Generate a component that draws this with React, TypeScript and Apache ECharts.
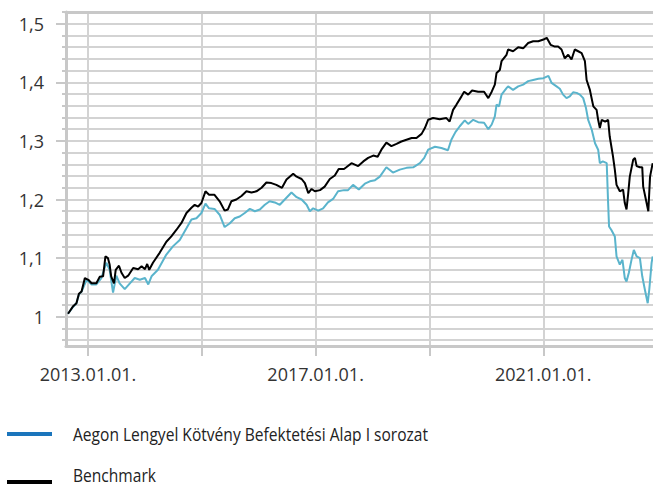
import React, { useEffect, useRef } from "react";
import * as echarts from "echarts";

const fundName = "Aegon Lengyel Kötvény Befektetési Alap I sorozat";
const benchName = "Benchmark";

const fundDates = [
  "2012-08-26", "2012-09-28", "2012-10-19", "2012-11-04", "2012-11-21", "2012-12-23",
  "2013-01-24", "2013-02-24", "2013-03-28", "2013-04-29", "2013-05-20", "2013-06-11",
  "2013-07-02", "2013-07-23", "2013-08-25", "2013-09-27", "2013-10-28", "2013-11-30",
  "2014-01-02", "2014-01-23", "2014-02-13", "2014-03-26", "2014-05-19", "2014-06-30",
  "2014-08-13", "2014-09-25", "2014-10-27", "2014-11-28", "2014-12-30", "2015-01-25",
  "2015-02-17", "2015-03-24", "2015-04-26", "2015-05-28", "2015-06-29", "2015-08-01",
  "2015-09-02", "2015-10-04", "2015-11-06", "2015-12-08", "2016-01-09", "2016-02-10",
  "2016-03-12", "2016-04-14", "2016-05-16", "2016-06-17", "2016-07-30", "2016-09-01",
  "2016-10-03", "2016-11-04", "2016-11-25", "2016-12-16", "2017-01-18", "2017-02-18",
  "2017-03-21", "2017-04-23", "2017-05-25", "2017-07-02", "2017-07-28", "2017-08-29",
  "2017-10-05", "2017-11-13", "2017-12-15", "2018-01-17", "2018-02-17", "2018-03-31",
  "2018-05-12", "2018-06-25", "2018-08-07", "2018-09-19", "2018-11-01", "2018-11-29",
  "2018-12-24", "2019-02-06", "2019-03-19", "2019-04-30", "2019-05-22", "2019-06-17",
  "2019-07-15", "2019-08-16", "2019-09-07", "2019-10-09", "2019-11-10", "2019-12-18",
  "2020-01-14", "2020-02-05", "2020-02-25", "2020-03-07", "2020-03-23", "2020-04-08",
  "2020-05-10", "2020-05-20", "2020-06-21", "2020-07-24", "2020-08-25", "2020-09-26",
  "2020-10-28", "2020-11-30", "2021-01-02", "2021-02-03", "2021-02-23", "2021-03-27",
  "2021-04-17", "2021-05-08", "2021-05-30", "2021-06-20", "2021-07-11", "2021-08-03",
  "2021-08-24", "2021-09-14", "2021-10-02", "2021-10-16", "2021-11-08", "2021-11-29",
  "2021-12-19", "2021-12-30", "2022-01-18", "2022-02-12", "2022-02-21", "2022-02-27",
  "2022-03-14", "2022-04-05", "2022-04-16", "2022-05-07", "2022-05-24", "2022-06-08",
  "2022-06-19", "2022-07-04", "2022-07-21", "2022-08-05", "2022-08-23", "2022-09-13",
  "2022-09-28", "2022-10-15", "2022-11-02", "2022-11-12", "2022-11-27", "2022-12-04",
];
const fundValues = [
  1.005, 1.017, 1.023, 1.038, 1.043, 1.063,
  1.055, 1.055, 1.066, 1.092, 1.080, 1.041,
  1.070, 1.057, 1.047, 1.057, 1.066, 1.063,
  1.066, 1.055, 1.069, 1.080, 1.106, 1.120,
  1.131, 1.151, 1.166, 1.168, 1.177, 1.193,
  1.185, 1.184, 1.174, 1.153, 1.159, 1.168,
  1.171, 1.177, 1.184, 1.180, 1.183, 1.191,
  1.197, 1.195, 1.191, 1.200, 1.212, 1.204,
  1.200, 1.191, 1.180, 1.185, 1.181, 1.185,
  1.195, 1.201, 1.214, 1.216, 1.216, 1.225,
  1.217, 1.227, 1.231, 1.233, 1.239, 1.255,
  1.246, 1.251, 1.254, 1.255, 1.262, 1.271,
  1.285, 1.290, 1.288, 1.284, 1.302, 1.315,
  1.325, 1.335, 1.329, 1.336, 1.332, 1.331,
  1.320, 1.328, 1.342, 1.362, 1.359, 1.379,
  1.390, 1.393, 1.387, 1.393, 1.396, 1.402,
  1.404, 1.406, 1.407, 1.411, 1.399, 1.393,
  1.389, 1.379, 1.373, 1.376, 1.383, 1.382,
  1.379, 1.373, 1.356, 1.336, 1.319, 1.296,
  1.285, 1.262, 1.265, 1.262, 1.194, 1.154,
  1.148, 1.137, 1.103, 1.089, 1.097, 1.066,
  1.060, 1.075, 1.097, 1.114, 1.103, 1.100,
  1.069, 1.046, 1.023, 1.046, 1.092, 1.103,
];

const benchDates = [
  "2012-08-26", "2012-09-28", "2012-10-19", "2012-11-04", "2012-11-21", "2012-12-12",
  "2013-01-03", "2013-01-24", "2013-02-24", "2013-03-17", "2013-04-08", "2013-04-23",
  "2013-05-09", "2013-05-20", "2013-05-30", "2013-06-17", "2013-06-28", "2013-07-19",
  "2013-08-04", "2013-08-25", "2013-09-16", "2013-10-18", "2013-11-19", "2013-12-11",
  "2014-01-02", "2014-01-16", "2014-01-29", "2014-02-22", "2014-04-06", "2014-05-19",
  "2014-06-20", "2014-07-22", "2014-08-24", "2014-09-25", "2014-10-27", "2014-11-17",
  "2014-12-09", "2014-12-30", "2015-01-25", "2015-02-17", "2015-03-24", "2015-04-26",
  "2015-05-28", "2015-06-18", "2015-07-10", "2015-08-11", "2015-09-13", "2015-10-15",
  "2015-11-16", "2015-12-18", "2016-01-20", "2016-02-20", "2016-03-23", "2016-04-24",
  "2016-05-30", "2016-06-28", "2016-08-10", "2016-09-01", "2016-10-03", "2016-10-24",
  "2016-11-15", "2016-12-06", "2016-12-27", "2017-01-29", "2017-02-28", "2017-04-02",
  "2017-05-04", "2017-05-29", "2017-07-02", "2017-07-17", "2017-08-19", "2017-10-01",
  "2017-11-03", "2017-12-04", "2018-01-06", "2018-02-03", "2018-02-27", "2018-03-31",
  "2018-05-02", "2018-06-04", "2018-07-05", "2018-08-07", "2018-09-09", "2018-10-10",
  "2018-11-12", "2018-12-03", "2018-12-24", "2019-01-25", "2019-03-08", "2019-04-20",
  "2019-05-11", "2019-06-02", "2019-06-24", "2019-07-26", "2019-08-12", "2019-09-07",
  "2019-10-02", "2019-11-10", "2019-12-18", "2020-01-14", "2020-02-05", "2020-02-25",
  "2020-03-07", "2020-03-28", "2020-04-08", "2020-05-10", "2020-05-20", "2020-06-21",
  "2020-07-24", "2020-08-25", "2020-09-26", "2020-10-28", "2020-11-30", "2021-01-02",
  "2021-01-23", "2021-02-17", "2021-03-16", "2021-04-06", "2021-04-28", "2021-05-19",
  "2021-06-10", "2021-07-01", "2021-07-22", "2021-08-13", "2021-09-04", "2021-09-25",
  "2021-10-06", "2021-10-27", "2021-11-18", "2021-12-09", "2021-12-19", "2021-12-30",
  "2022-01-11", "2022-02-02", "2022-02-21", "2022-03-03", "2022-03-24", "2022-04-05",
  "2022-04-16", "2022-05-07", "2022-05-28", "2022-06-08", "2022-06-19", "2022-06-29",
  "2022-07-10", "2022-08-01", "2022-08-12", "2022-08-23", "2022-09-13", "2022-09-28",
  "2022-10-04", "2022-10-26", "2022-11-06", "2022-11-17", "2022-12-04",
];
const benchValues = [
  1.005, 1.018, 1.023, 1.039, 1.043, 1.066,
  1.063, 1.057, 1.057, 1.068, 1.069, 1.103,
  1.100, 1.089, 1.069, 1.057, 1.080, 1.087,
  1.075, 1.066, 1.070, 1.083, 1.081, 1.086,
  1.081, 1.090, 1.080, 1.092, 1.109, 1.128,
  1.137, 1.148, 1.160, 1.177, 1.186, 1.191,
  1.188, 1.194, 1.214, 1.208, 1.208, 1.197,
  1.181, 1.183, 1.197, 1.200, 1.206, 1.214,
  1.212, 1.214, 1.220, 1.229, 1.228, 1.225,
  1.220, 1.234, 1.244, 1.239, 1.235, 1.228,
  1.211, 1.218, 1.214, 1.216, 1.222, 1.235,
  1.241, 1.252, 1.252, 1.255, 1.262, 1.257,
  1.265, 1.271, 1.275, 1.273, 1.285, 1.297,
  1.291, 1.295, 1.299, 1.302, 1.305, 1.305,
  1.312, 1.322, 1.336, 1.339, 1.337, 1.339,
  1.333, 1.353, 1.362, 1.376, 1.384, 1.379,
  1.386, 1.384, 1.384, 1.373, 1.384, 1.396,
  1.416, 1.421, 1.436, 1.447, 1.456, 1.453,
  1.460, 1.458, 1.467, 1.470, 1.470, 1.473,
  1.476, 1.464, 1.461, 1.461, 1.456, 1.441,
  1.447, 1.439, 1.456, 1.453, 1.450, 1.436,
  1.404, 1.387, 1.359, 1.353, 1.336, 1.322,
  1.336, 1.333, 1.336, 1.308, 1.274, 1.251,
  1.225, 1.214, 1.217, 1.194, 1.183, 1.208,
  1.239, 1.268, 1.271, 1.257, 1.255, 1.255,
  1.222, 1.194, 1.180, 1.239, 1.262,
];

const yMajorTicks = [1, 1.1, 1.2, 1.3, 1.4, 1.5];
const yMinorTicks = [
  0.96, 0.98, 1, 1.02, 1.04, 1.06, 1.08, 1.1, 1.12, 1.14, 1.16, 1.18, 1.2,
  1.22, 1.24, 1.26, 1.28, 1.3, 1.32, 1.34, 1.36, 1.38, 1.4, 1.42, 1.44,
  1.46, 1.48, 1.5, 1.52,
];
const xTickDates = ["2013-01-01", "2015-01-01", "2017-01-01", "2019-01-01", "2021-01-01"];
const xLabelDates = ["2013-01-01", "2017-01-01", "2021-01-01"];
const xMinDate = "2012-08-13";
const xMaxDate = "2022-12-06";

const legendItems = [
  { name: fundName, color: "#1b75bc" },
  { name: benchName, color: "#000000" },
];

const ts = (d: string) => Date.parse(d + "T00:00:00Z");
const AXIS_FONT = "'Open Sans', 'Noto Sans', sans-serif";

export default function App() {
  const ref = useRef<HTMLDivElement>(null);
  useEffect(() => {
    if (!ref.current) return;
    const chart = echarts.init(ref.current, undefined, { renderer: "svg" });
    const axisGray = "#c8c8c8";
    const gridGray = "#d3d3d3";
    const xMin = ts(xMinDate);
    const xMax = ts(xMaxDate);

    const legendGraphic = legendItems.map((it, i) => ({
      type: "group",
      x: 7,
      y: 423 + i * 48,
      children: [
        {
          type: "rect",
          shape: { x: 0, y: 9, width: 45, height: 4 },
          style: { fill: it.color },
        },
        {
          type: "text",
          x: 66,
          y: i === 0 ? 10 : 3,
          scaleX: 0.82,
          style: {
            text: it.name,
            fontSize: 19,
            fontFamily: AXIS_FONT,
            fill: "#222",
            verticalAlign: "middle",
            align: "left",
          },
        },
      ],
    }));

    chart.setOption({
      animation: false,
      backgroundColor: "#ffffff",
      grid: { left: 66, right: 0, top: 12, bottom: 141, containLabel: false },
      graphic: legendGraphic,
      xAxis: [
        {
          type: "value",
          min: xMin,
          max: xMax,
          axisLine: { show: true, lineStyle: { color: axisGray, width: 3 } },
          axisTick: {
            show: true,
            customValues: xTickDates.map(ts),
            length: 10,
            lineStyle: { color: axisGray, width: 2 },
          },
          axisLabel: {
            customValues: xLabelDates.map(ts),
            margin: 19,
            fontSize: 18,
            fontFamily: AXIS_FONT,
            color: "#333",
            formatter: (v: number) => {
              const d = new Date(v);
              const mm = String(d.getUTCMonth() + 1).padStart(2, "0");
              const dd = String(d.getUTCDate()).padStart(2, "0");
              return `${d.getUTCFullYear()}.${mm}.${dd}.`;
            },
          },
          splitLine: { show: true, lineStyle: { color: gridGray, width: 2 } },
        },
        {
          type: "value",
          position: "top",
          min: xMin,
          max: xMax,
          axisLine: { show: true, lineStyle: { color: axisGray, width: 3 } },
          axisTick: { show: false },
          axisLabel: { show: false },
          splitLine: { show: false },
        },
      ],
      yAxis: [
        {
          type: "value",
          position: "left",
          min: 0.95,
          max: 1.52,
          axisLine: { show: true, lineStyle: { color: axisGray, width: 3 } },
          axisTick: {
            show: true,
            customValues: yMinorTicks,
            length: 4,
            lineStyle: { color: axisGray, width: 2 },
          },
          axisLabel: { show: false },
          splitLine: { show: true, lineStyle: { color: gridGray, width: 2 } },
        },
        {
          type: "value",
          position: "left",
          min: 0.95,
          max: 1.52,
          axisLine: { show: false },
          axisTick: {
            show: true,
            customValues: yMajorTicks,
            length: 10,
            lineStyle: { color: axisGray, width: 2 },
          },
          axisLabel: {
            customValues: yMajorTicks,
            margin: 22,
            fontSize: 18,
            fontFamily: AXIS_FONT,
            color: "#333",
            formatter: (v: number) => String(v).replace(".", ","),
          },
          splitLine: { show: false },
        },
      ],
      series: [
        {
          name: fundName,
          type: "line",
          xAxisIndex: 0,
          yAxisIndex: 0,
          showSymbol: false,
          lineStyle: { color: "#5ab4cc", width: 2 },
          itemStyle: { color: "#5ab4cc" },
          data: fundDates.map((d, i) => [ts(d), fundValues[i]]),
        },
        {
          name: benchName,
          type: "line",
          xAxisIndex: 0,
          yAxisIndex: 0,
          showSymbol: false,
          lineStyle: { color: "#000000", width: 2 },
          itemStyle: { color: "#000000" },
          data: benchDates.map((d, i) => [ts(d), benchValues[i]]),
        },
      ],
    });
    return () => chart.dispose();
  }, []);
  return (
    <div
      ref={ref}
      style={{ position: "fixed", left: 0, top: 0, width: 653, height: 487, background: "#fff" }}
    />
  );
}
